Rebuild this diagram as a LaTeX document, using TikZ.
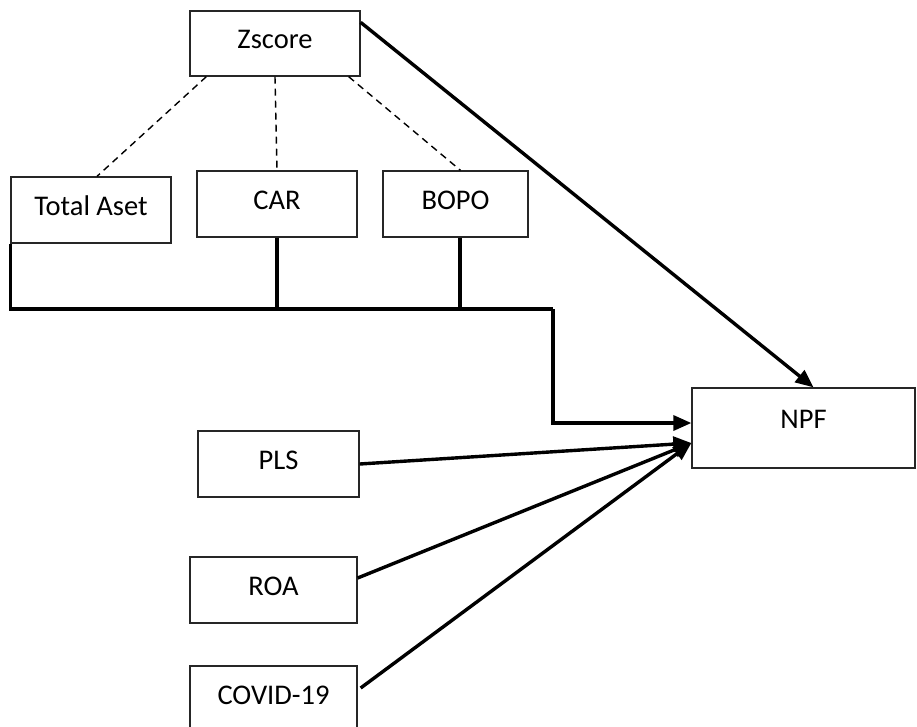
\documentclass[tikz,border=0pt]{standalone}
\usepackage{fontspec}
\setmainfont{Carlito}
\usetikzlibrary{arrows.meta}
\begin{document}
\begin{tikzpicture}[x=1pt,y=1pt,
  box/.style={draw=black!85, line width=1.3pt, fill=white, inner sep=0pt,
    text depth=8pt, font=\fontsize{28.5}{33}\selectfont},
  thickline/.style={line width=3.4pt},
  arr/.style={thickline, -{Triangle[length=18pt,width=15pt]}},
  dashline/.style={line width=1.4pt, dash pattern=on 7pt off 5pt}]
\useasboundingbox (0,0) rectangle (917,-726);
\fill[white] (0,0) rectangle (917,-726);

\node[box, minimum width=170pt, minimum height=65pt] (Zscore) at (275,-43.5) {Zscore};
\node[box, minimum width=160pt, minimum height=66pt] (Total) at (91,-210) {Total Aset};
\node[box, minimum width=160pt, minimum height=66pt] (CAR) at (277,-204) {CAR};
\node[box, minimum width=145pt, minimum height=66pt] (BOPO) at (455.5,-204) {BOPO};
\node[box, minimum width=223pt, minimum height=80pt, text depth=18pt] (NPF) at (803.5,-428) {NPF};
\node[box, minimum width=161pt, minimum height=66pt] (PLS) at (278.5,-464) {PLS};
\node[box, minimum width=167pt, minimum height=66pt] (ROA) at (273.5,-590) {ROA};
\node[box, minimum width=167pt, minimum height=66pt] (COVID) at (273.5,-699) {COVID-19};

% dashed links
\draw[dashline] ([xshift=17pt]Zscore.south west) -- ([xshift=6pt]Total.north);
\draw[dashline] (Zscore.south) -- (CAR.north);
\draw[dashline] ([xshift=-12pt]Zscore.south east) -- ([xshift=5pt]BOPO.north);

% Zscore to NPF
\draw[arr] ([yshift=-12pt]Zscore.north east) -- ([xshift=10pt]NPF.north);

% bus
\coordinate (busR) at (553,-309);
\draw[thickline] (Total.south west) |- (busR);
\draw[arr] (busR) |- ([yshift=5pt]NPF.west);
\draw[thickline] (CAR.south) -- (CAR.south |- busR);
\draw[thickline] ([xshift=4.5pt]BOPO.south) -- ([xshift=4.5pt]BOPO.south |- busR);

% other arrows
\draw[arr] (PLS.east) -- ([yshift=-15pt]NPF.west);
\draw[arr] ([yshift=12pt]ROA.east) -- ([yshift=-15pt]NPF.west);
\draw[arr] ([xshift=3pt,yshift=11pt]COVID.east) -- ([yshift=-15pt]NPF.west);
\end{tikzpicture}
\end{document}
